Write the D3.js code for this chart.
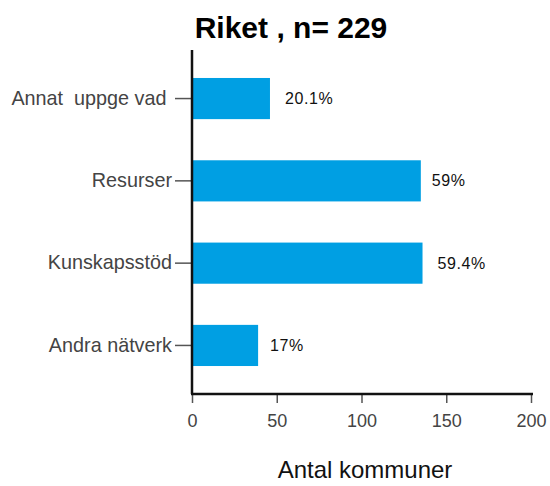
<!DOCTYPE html>
<html>
<head>
<meta charset="utf-8">
<script src="https://cdn.jsdelivr.net/npm/d3@7"></script>
<style>
  body { margin: 0; background: #fff; }
  svg text { font-family: "Liberation Sans", Arial, sans-serif; }
</style>
</head>
<body>
<div id="chart"></div>
<script>
// Chart data
var categories = ["Annat  uppge vad ", "Resurser", "Kunskapsstöd", "Andra nätverk"];
var counts = [46, 135, 136, 39];
var percentLabels = ["20.1%", "59%", "59.4%", "17%"];
var xTicks = [0, 50, 100, 150, 200];

var svgWidth = 550;
var svgHeight = 486;

var margin = { top: 50, right: 19, bottom: 92, left: 192 };
var chartWidth = svgWidth - margin.left - margin.right;
var chartHeight = svgHeight - margin.top - margin.bottom;

var svg = d3.select("#chart")
  .append("svg")
  .attr("width", svgWidth)
  .attr("height", svgHeight);

var chartGroup = svg.append("g")
  .attr("transform", `translate(${margin.left}, ${margin.top})`);

var data = categories.map(function(c, i) {
  return { cat: c, count: counts[i], label: percentLabels[i] };
});

var xScale = d3.scaleLinear()
  .domain([0, 200])
  .range([0, 339]);

var yScale = d3.scaleBand()
  .domain(categories)
  .range([0, chartHeight])
  .paddingInner(0.5)
  .paddingOuter(0.34);

// bars
chartGroup.selectAll("rect.bar")
  .data(data)
  .enter()
  .append("rect")
  .attr("class", "bar")
  .attr("x", 0)
  .attr("y", d => yScale(d.cat))
  .attr("width", d => xScale(d.count))
  .attr("height", yScale.bandwidth())
  .attr("fill", "#009fe3");

// value labels
var labelOffsets = [15, 11, 15, 12];
chartGroup.selectAll("text.val")
  .data(data)
  .enter()
  .append("text")
  .attr("class", "val")
  .attr("x", (d, i) => xScale(d.count) + labelOffsets[i])
  .attr("y", d => yScale(d.cat) + yScale.bandwidth() / 2)
  .attr("dy", "0.35em")
  .attr("font-size", "16px")
  .attr("letter-spacing", "0.6px")
  .attr("fill", "#111")
  .text(d => d.label);

// left axis
var leftAxis = d3.axisLeft(yScale).tickSize(17).tickPadding(3);
var gy = chartGroup.append("g").call(leftAxis);
gy.select(".domain").remove();
gy.selectAll(".tick line").attr("stroke", "#555").attr("stroke-width", 1.5);
gy.selectAll(".tick text")
  .attr("font-size", "19.8px")
  .attr("fill", "#444")
  .style("white-space", "pre");

// bottom axis
var bottomAxis = d3.axisBottom(xScale).tickValues(xTicks).tickSize(9).tickPadding(11);
var gx = chartGroup.append("g")
  .attr("transform", "translate(0, " + chartHeight + ")")
  .call(bottomAxis);
gx.select(".domain").remove();
gx.selectAll(".tick line").attr("stroke", "#555").attr("stroke-width", 1.5);
gx.selectAll(".tick text")
  .attr("font-size", "18px")
  .attr("fill", "#444");

// axis lines
chartGroup.append("line")
  .attr("x1", 0).attr("x2", 0)
  .attr("y1", 0).attr("y2", chartHeight)
  .attr("stroke", "#111").attr("stroke-width", 2.5);
chartGroup.append("line")
  .attr("x1", -1).attr("x2", xScale(200) + 2)
  .attr("y1", chartHeight).attr("y2", chartHeight)
  .attr("stroke", "#111").attr("stroke-width", 2.5);

// axis title
chartGroup.append("text")
  .attr("x", 173)
  .attr("y", chartHeight + 84)
  .attr("text-anchor", "middle")
  .attr("font-size", "24px")
  .attr("fill", "#111")
  .text("Antal kommuner");

// title
svg.append("text")
  .attr("x", 291)
  .attr("y", 38)
  .attr("text-anchor", "middle")
  .attr("font-size", "30px")
  .attr("font-weight", "bold")
  .attr("fill", "#000")
  .text("Riket , n= 229");
</script>
</body>
</html>
